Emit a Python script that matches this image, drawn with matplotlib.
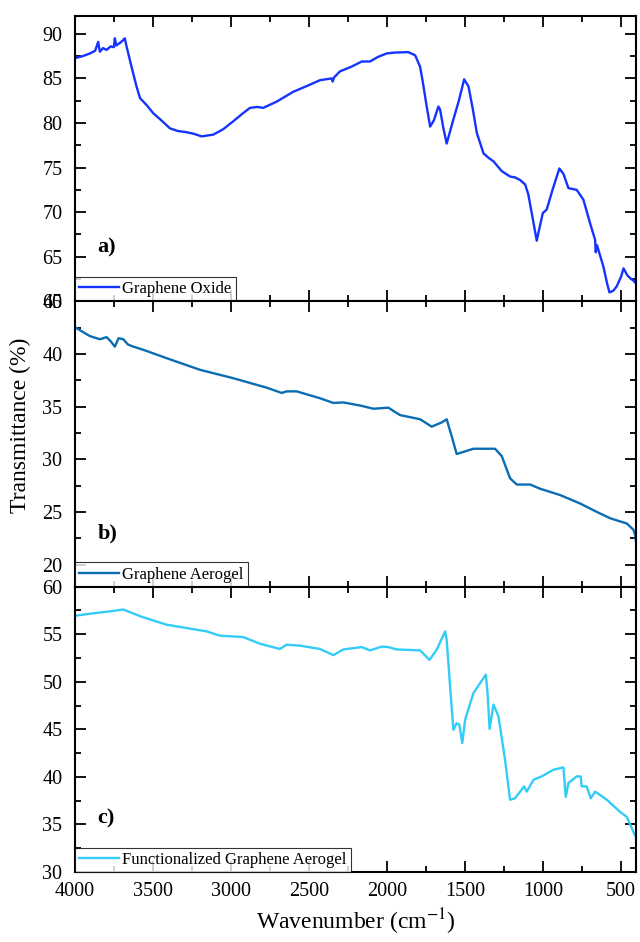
import numpy as np
import matplotlib
matplotlib.use("Agg")
import matplotlib.pyplot as plt
from matplotlib.ticker import MultipleLocator

# ===============================
# Data
# ===============================
wn_go = [3994, 3950, 3904, 3870, 3851, 3840, 3820, 3797, 3770, 3750, 3744, 3735, 3710, 3690, 3680,
         3669, 3637, 3605, 3583, 3540, 3498, 3440, 3391, 3340, 3295, 3240, 3188, 3113, 3050, 2985,
         2930, 2878, 2830, 2793, 2707, 2601, 2494, 2430, 2355, 2348, 2340, 2301, 2230, 2162,
         2109, 2060, 2002, 1950, 1864, 1820, 1788, 1770, 1746, 1724, 1700, 1671, 1660, 1640, 1618,
         1575, 1540, 1506, 1478, 1450, 1425, 1382, 1350, 1318, 1265, 1212, 1180, 1147, 1115, 1095,
         1073, 1041, 1020, 1002, 977, 940, 896, 870, 838, 785, 742, 700, 667, 663, 655, 614, 590,
         575, 550, 528, 500, 485, 460, 442, 420, 405, 403, 400]
tr_go = [87.3, 87.5, 87.8, 88.1, 89.1, 88.0, 88.4, 88.2, 88.6, 88.5, 89.5, 88.7, 89.0, 89.3, 89.5,
         88.6, 86.3, 84.1, 82.8, 82.0, 81.1, 80.2, 79.4, 79.1, 79.0, 78.8, 78.5, 78.7, 79.3, 80.2,
         81.0, 81.7, 81.8, 81.7, 82.4, 83.5, 84.3, 84.8, 85.0, 84.65, 85.1, 85.8, 86.3, 86.9,
         86.9, 87.4, 87.8, 87.9, 87.95, 87.6, 86.3, 84.5, 81.85, 79.6, 80.3, 81.85, 81.5, 79.5, 77.7,
         80.4, 82.5, 84.9, 84.1, 81.5, 78.9, 76.6, 76.1, 75.7, 74.6, 74.0, 73.9, 73.6, 73.1, 72.0,
         69.9, 66.8, 68.5, 69.9, 70.3, 72.5, 74.9, 74.3, 72.7, 72.5, 71.4, 68.8, 66.9, 65.5, 66.3, 63.9, 62.0,
         61.0, 61.2, 61.7, 62.8, 63.7, 62.9, 62.6, 62.3, 62.0, 65.6, 62.05]

wn_ga = [3994, 3950, 3904, 3840, 3797, 3770, 3744, 3720, 3690, 3660, 3626, 3562, 3412, 3199, 2985,
         2771, 2675, 2643, 2579, 2430, 2344, 2280, 2171, 2087, 1992, 1917, 1788, 1714, 1650, 1618,
         1586, 1554, 1511, 1447, 1308, 1265, 1212, 1169, 1083, 1019, 891, 763, 656, 571, 464,
         421, 410, 400]
tr_ga = [42.5, 42.1, 41.7, 41.4, 41.6, 41.2, 40.7, 41.5, 41.4, 40.9, 40.7, 40.4, 39.6, 38.5, 37.7,
         36.8, 36.3, 36.45, 36.45, 35.8, 35.35, 35.4, 35.1, 34.8, 34.9, 34.2, 33.8, 33.1, 33.5, 33.8,
         32.2, 30.5, 30.7, 31.0, 31.0, 30.3, 28.2, 27.6, 27.6, 27.2, 26.6, 25.8, 25.0, 24.4, 23.9,
         23.3, 22.8, 21.5]

wn_fga = [3994, 3883, 3776, 3690, 3583, 3412, 3284, 3156, 3071, 2921, 2814, 2686, 2643, 2558,
          2430, 2344, 2280, 2162, 2109, 2034, 1992, 1938, 1788, 1728, 1681, 1628, 1618, 1596,
          1575, 1554, 1537, 1518, 1500, 1447, 1367, 1356, 1343, 1318, 1286, 1244, 1212, 1180,
          1122, 1105, 1062, 1009, 934, 870, 855, 838, 785, 759, 753, 721, 695, 667, 592, 506,
          464, 410, 400]
tr_fga = [56.95, 57.2, 57.4, 57.6, 56.9, 56.0, 55.65, 55.3, 54.85, 54.7, 54.0, 53.45, 53.9, 53.8,
          53.45, 52.8, 53.4, 53.65, 53.3, 53.7, 53.65, 53.4, 53.3, 52.3, 53.4, 55.3, 54.4, 49.5,
          44.95, 45.65, 45.5, 43.55, 46.0, 48.8, 50.75, 48.8, 45.05, 47.6, 46.35, 41.8, 37.6, 37.75,
          39.0, 38.45, 39.7, 40.05, 40.75, 41.0, 37.9, 39.35, 40.05, 40.05, 39.0, 39.0, 37.75,
          38.45, 37.6, 36.3, 35.8, 33.8, 34.2]

labels = ["Graphene Oxide", "Graphene Aerogel", "Functionalized Graphene Aerogel"]
tags = ["a)", "b)", "c)"]
colors = ["#1433ff", "#0a6db4", "#33ccf7"]
ylims = [(60, 92), (17.9, 45), (30, 60)]

# ===============================
# Plot
# ===============================
plt.rcParams['font.family'] = ['Liberation Serif', 'DejaVu Serif']
plt.rcParams['mathtext.fontset'] = 'stix'

fig, axes = plt.subplots(3, 1, figsize=(6.4, 9.42), dpi=100, sharex=True)
fig.subplots_adjust(left=0.117, right=0.994, top=0.983, bottom=0.0743, hspace=0)

series = [(wn_go, tr_go), (wn_ga, tr_ga), (wn_fga, tr_fga)]
for ax, (x, y), lab, tag, c, yl in zip(axes, series, labels, tags, colors, ylims):
    ax.plot(x, y, color=c, lw=1.7, label=lab)
    ax.set_ylim(*yl)
    ax.yaxis.set_major_locator(MultipleLocator(5))
    ax.yaxis.set_minor_locator(MultipleLocator(2.5))
    ax.xaxis.set_major_locator(MultipleLocator(500))
    ax.xaxis.set_minor_locator(MultipleLocator(250))
    ax.tick_params(which='both', direction='in', top=True, right=True, labelsize=14.5,
                   width=1.3)
    ax.tick_params(which='major', length=8)
    ax.tick_params(which='minor', length=4.5)
    ax.tick_params(axis='y', pad=9)
    for s in ax.spines.values():
        s.set_linewidth(1.5)
    ax.text(0.04, 0.17, tag, transform=ax.transAxes, fontsize=16, fontweight='bold')
    leg = ax.legend(loc='lower left', fontsize=12, borderaxespad=0, fancybox=False,
                    handlelength=2.4, borderpad=0.25, handletextpad=0.2)
    leg.get_frame().set_edgecolor('black')
    leg.get_frame().set_linewidth(0.8)
    leg.set_zorder(5)

axes[0].set_yticks([60, 65, 70, 75, 80, 85, 90])
axes[1].set_yticks([20, 25, 30, 35, 40, 45])
axes[2].set_xlim(4000, 404)
axes[2].tick_params(axis='x', pad=7)

fig.text(0.032, 0.549, "Transmittance (%)", rotation=90, va='center', ha='center', fontsize=17)
axes[2].set_xlabel("Wavenumber (cm$^{-1}$)", fontsize=17, labelpad=4)

plt.savefig("out.png", dpi=100)
